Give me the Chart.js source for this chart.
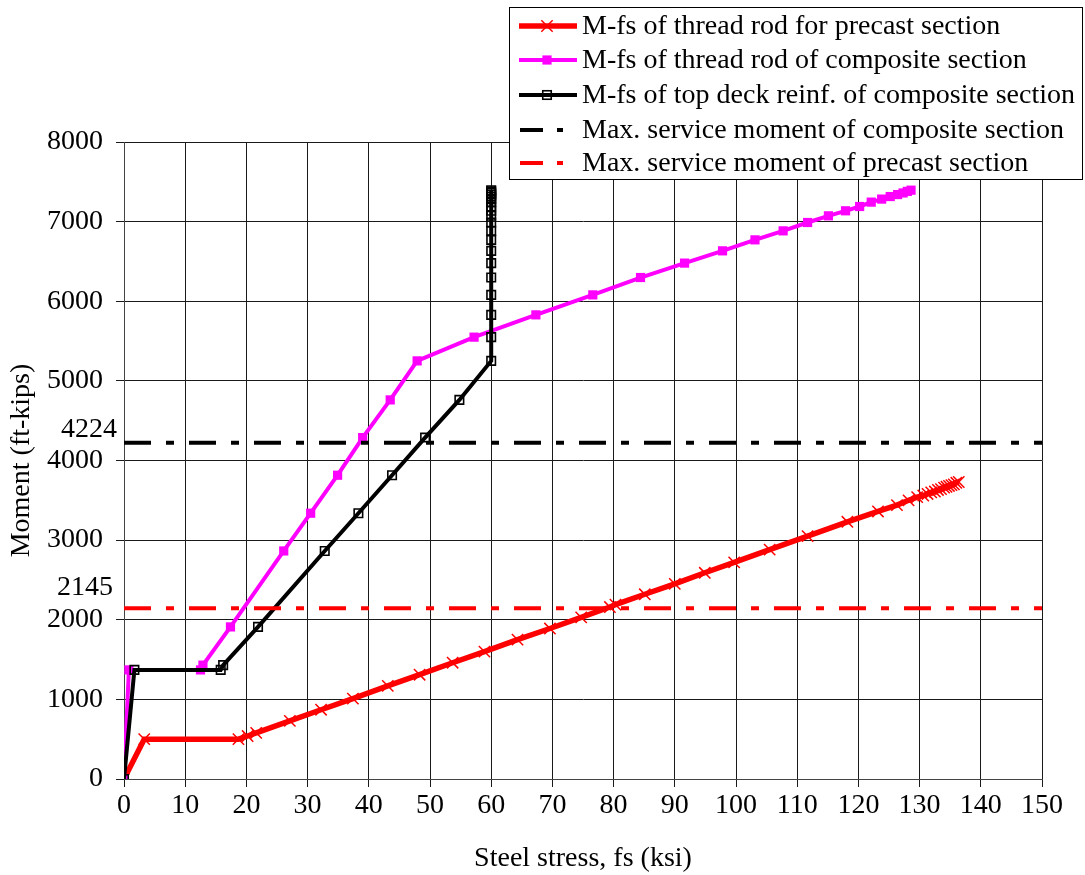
<!DOCTYPE html>
<html>
<head>
<meta charset="utf-8">
<script src="https://cdn.jsdelivr.net/npm/chart.js"></script>
<style>
  html, body { margin: 0; padding: 0; background: #fff; }
  #wrap { width: 1085px; height: 875px; }
</style>
</head>
<body>
<div id="wrap"><canvas id="chart" width="1085" height="875"></canvas></div>
<script>
'use strict';

// Steel stress (ksi) and moment (ft-kips)
var precastStress = [0, 3.3, 18.7, 20.2, 21.6, 27.1, 32.2, 37.4, 43.1, 48.3, 53.7, 58.9, 64.3, 69.6,
  74.7, 79.4, 80.3, 85.1, 90.0, 94.9, 99.7, 105.5, 111.7, 118.2, 123.2, 126.3, 128.2, 129.6,
  130.6, 131.3, 131.9, 132.5, 133.0, 133.5, 134.0, 134.4, 134.8, 135.2, 135.6, 136.0, 136.4];
var precastMoment = [0, 500, 500, 540, 580, 730, 870, 1010, 1170, 1310, 1460, 1600, 1750, 1890,
  2030, 2160, 2190, 2320, 2450, 2590, 2720, 2880, 3050, 3230, 3360, 3440, 3500, 3540,
  3560, 3580, 3600, 3610, 3630, 3640, 3660, 3670, 3680, 3690, 3700, 3720, 3730];

var compositeMoment = [0, 1370, 1370, 1430, 1910, 2864, 3338, 3815, 4288, 4761, 5251, 5549, 5829,
  6080, 6298, 6479, 6633, 6771, 6884, 6989, 7073, 7136, 7190, 7245, 7283, 7315, 7340, 7360, 7380, 7395];
var rodStress = [0, 0.8, 12.5, 12.9, 17.4, 26.1, 30.5, 34.9, 39.0, 43.5, 47.9, 57.2, 67.3,
  76.6, 84.4, 91.6, 97.8, 103.1, 107.7, 111.7, 115.1, 117.9, 120.2, 122.1, 123.8, 125.2, 126.4, 127.3, 128.0, 128.6];
var deckStress = [0, 1.7, 15.8, 16.2, 21.9, 32.8, 38.3, 43.8, 49.2, 54.8, 60, 60, 60,
  60, 60, 60, 60, 60, 60, 60, 60, 60, 60, 60, 60, 60, 60, 60, 60, 60];

var xRange = [0, 150];
var compositeService = 4224;
var precastService = 2145;

var seriesLabels = [
  'M-fs of thread rod for precast section',
  'M-fs of thread rod of composite section',
  'M-fs of top deck reinf. of composite section',
  'Max. service moment of composite section',
  'Max. service moment of precast section'
];

var FONT = "'Liberation Serif', 'Times New Roman', serif";
var FONT_SIZE = 28;

var toPoints = function(xs, ys) {
  return xs.map(function(x, i) { return { x: x, y: ys[i] }; });
};

var serviceLine = function(value) {
  return xRange.map(function(x) { return { x: x, y: value }; });
};

var DASH = [27, 15, 8, 15];

var datasets = [
  {
    label: seriesLabels[0],
    data: toPoints(precastStress, precastMoment),
    borderColor: '#ff0000',
    borderWidth: 5.5,
    pointStyle: 'crossRot',
    pointRadius: 8,
    pointBorderWidth: 1.5,
    pointBorderColor: '#ff0000',
    pointBackgroundColor: '#ff0000',
    order: 5
  },
  {
    label: seriesLabels[1],
    data: toPoints(rodStress, compositeMoment),
    borderColor: '#ff00ff',
    borderWidth: 4,
    pointStyle: 'rect',
    pointRadius: 6.5,
    pointBorderWidth: 0,
    pointBackgroundColor: '#ff00ff',
    order: 4
  },
  {
    label: seriesLabels[2],
    data: toPoints(deckStress, compositeMoment),
    borderColor: '#000000',
    borderWidth: 4,
    pointStyle: 'rect',
    pointRadius: 6,
    pointBorderWidth: 1.6,
    pointBorderColor: '#000000',
    pointBackgroundColor: 'rgba(255,255,255,0)',
    order: 3
  },
  {
    label: seriesLabels[3],
    data: serviceLine(compositeService),
    borderColor: '#000000',
    borderWidth: 4,
    borderDash: DASH,
    pointRadius: 0,
    order: 2
  },
  {
    label: seriesLabels[4],
    data: serviceLine(precastService),
    borderColor: '#ff0000',
    borderWidth: 4,
    borderDash: DASH,
    pointRadius: 0,
    order: 1
  }
];

/**
 * Draw a marker shape for the legend.
 */
var drawMarker = function(ctx, ds, x, y) {
  if (!ds.pointStyle || !ds.pointRadius) return;
  var r = ds.pointRadius;
  ctx.save();
  ctx.setLineDash([]);
  if (ds.pointStyle === 'crossRot') {
    var d = r * Math.SQRT1_2;
    ctx.strokeStyle = ds.pointBorderColor;
    ctx.lineWidth = ds.pointBorderWidth;
    ctx.beginPath();
    ctx.moveTo(x - d, y - d); ctx.lineTo(x + d, y + d);
    ctx.moveTo(x - d, y + d); ctx.lineTo(x + d, y - d);
    ctx.stroke();
  } else {
    var s = r * Math.SQRT1_2;
    ctx.fillStyle = ds.pointBackgroundColor;
    ctx.fillRect(x - s, y - s, 2 * s, 2 * s);
    if (ds.pointBorderWidth) {
      ctx.strokeStyle = ds.pointBorderColor;
      ctx.lineWidth = ds.pointBorderWidth;
      ctx.strokeRect(x - s, y - s, 2 * s, 2 * s);
    }
  }
  ctx.restore();
};

// Boxed legend that sits across the top right corner, plus the service value labels
var overlayPlugin = {
  id: 'overlay',
  afterDraw: function(chart) {
    var ctx = chart.ctx;
    var yScale = chart.scales.y;

    // service moment labels at the left
    ctx.save();
    ctx.font = FONT_SIZE + 'px ' + FONT;
    ctx.fillStyle = '#000';
    ctx.textAlign = 'left';
    ctx.textBaseline = 'middle';
    ctx.fillText(String(compositeService), 61, yScale.getPixelForValue(compositeService) - 13);
    ctx.fillText(String(precastService), 57, yScale.getPixelForValue(precastService) - 21);
    ctx.restore();

    // legend box
    var box = { left: 509.5, top: 7.5, width: 573, height: 172 };
    ctx.save();
    ctx.fillStyle = '#fff';
    ctx.fillRect(box.left, box.top, box.width, box.height);
    ctx.strokeStyle = '#000';
    ctx.lineWidth = 1;
    ctx.strokeRect(box.left, box.top, box.width, box.height);

    var rowY = [26, 60, 95, 130, 163];
    chart.data.datasets.forEach(function(ds, i) {
      var y = rowY[i];
      ctx.save();
      ctx.strokeStyle = ds.borderColor;
      ctx.lineWidth = ds.borderWidth;
      if (ds.borderDash) {
        ctx.setLineDash([23, 14, 6, 14]);
        ctx.beginPath();
        ctx.moveTo(520, y); ctx.lineTo(563, y);
        ctx.stroke();
      } else {
        ctx.beginPath();
        ctx.moveTo(519, y); ctx.lineTo(577, y);
        ctx.stroke();
      }
      ctx.restore();
      drawMarker(ctx, ds, 547, y);

      ctx.font = FONT_SIZE + 'px ' + FONT;
      ctx.fillStyle = '#000';
      ctx.textAlign = 'left';
      ctx.textBaseline = 'middle';
      ctx.fillText(ds.label, 582, y + 1);
    });
    ctx.restore();
  }
};

var gridOpts = {
  color: '#1a1a1a',
  lineWidth: 1,
  tickLength: 8,
  tickColor: '#1a1a1a'
};

new Chart(document.getElementById('chart').getContext('2d'), {
  type: 'line',
  data: { datasets: datasets },
  options: {
    responsive: false,
    animation: false,
    layout: { padding: { top: 142, right: 43, left: 0, bottom: 0 } },
    elements: { line: { tension: 0 } },
    plugins: {
      legend: { display: false },
      tooltip: { enabled: false }
    },
    scales: {
      x: {
        type: 'linear',
        min: xRange[0],
        max: xRange[1],
        ticks: {
          stepSize: 10,
          padding: 2,
          color: '#000',
          font: { family: FONT, size: FONT_SIZE },
          maxRotation: 0
        },
        grid: gridOpts,
        border: { color: '#444', width: 1 },
        title: {
          display: true,
          text: 'Steel stress, fs (ksi)',
          color: '#000',
          font: { family: FONT, size: FONT_SIZE },
          padding: { top: 0, bottom: 0 }
        },
        afterFit: function(scale) { scale.height = 96; }
      },
      y: {
        type: 'linear',
        min: 0,
        max: 8000,
        ticks: {
          stepSize: 1000,
          padding: 13,
          color: '#000',
          font: { family: FONT, size: FONT_SIZE },
          callback: function(v) { return String(v); }
        },
        grid: gridOpts,
        border: { color: '#444', width: 1 },
        title: {
          display: true,
          text: 'Moment (ft-kips)',
          color: '#000',
          font: { family: FONT, size: FONT_SIZE },
          padding: { top: 5, bottom: 0 }
        },
        afterFit: function(scale) { scale.width = 124; }
      }
    }
  },
  plugins: [overlayPlugin]
});
</script>
</body>
</html>
